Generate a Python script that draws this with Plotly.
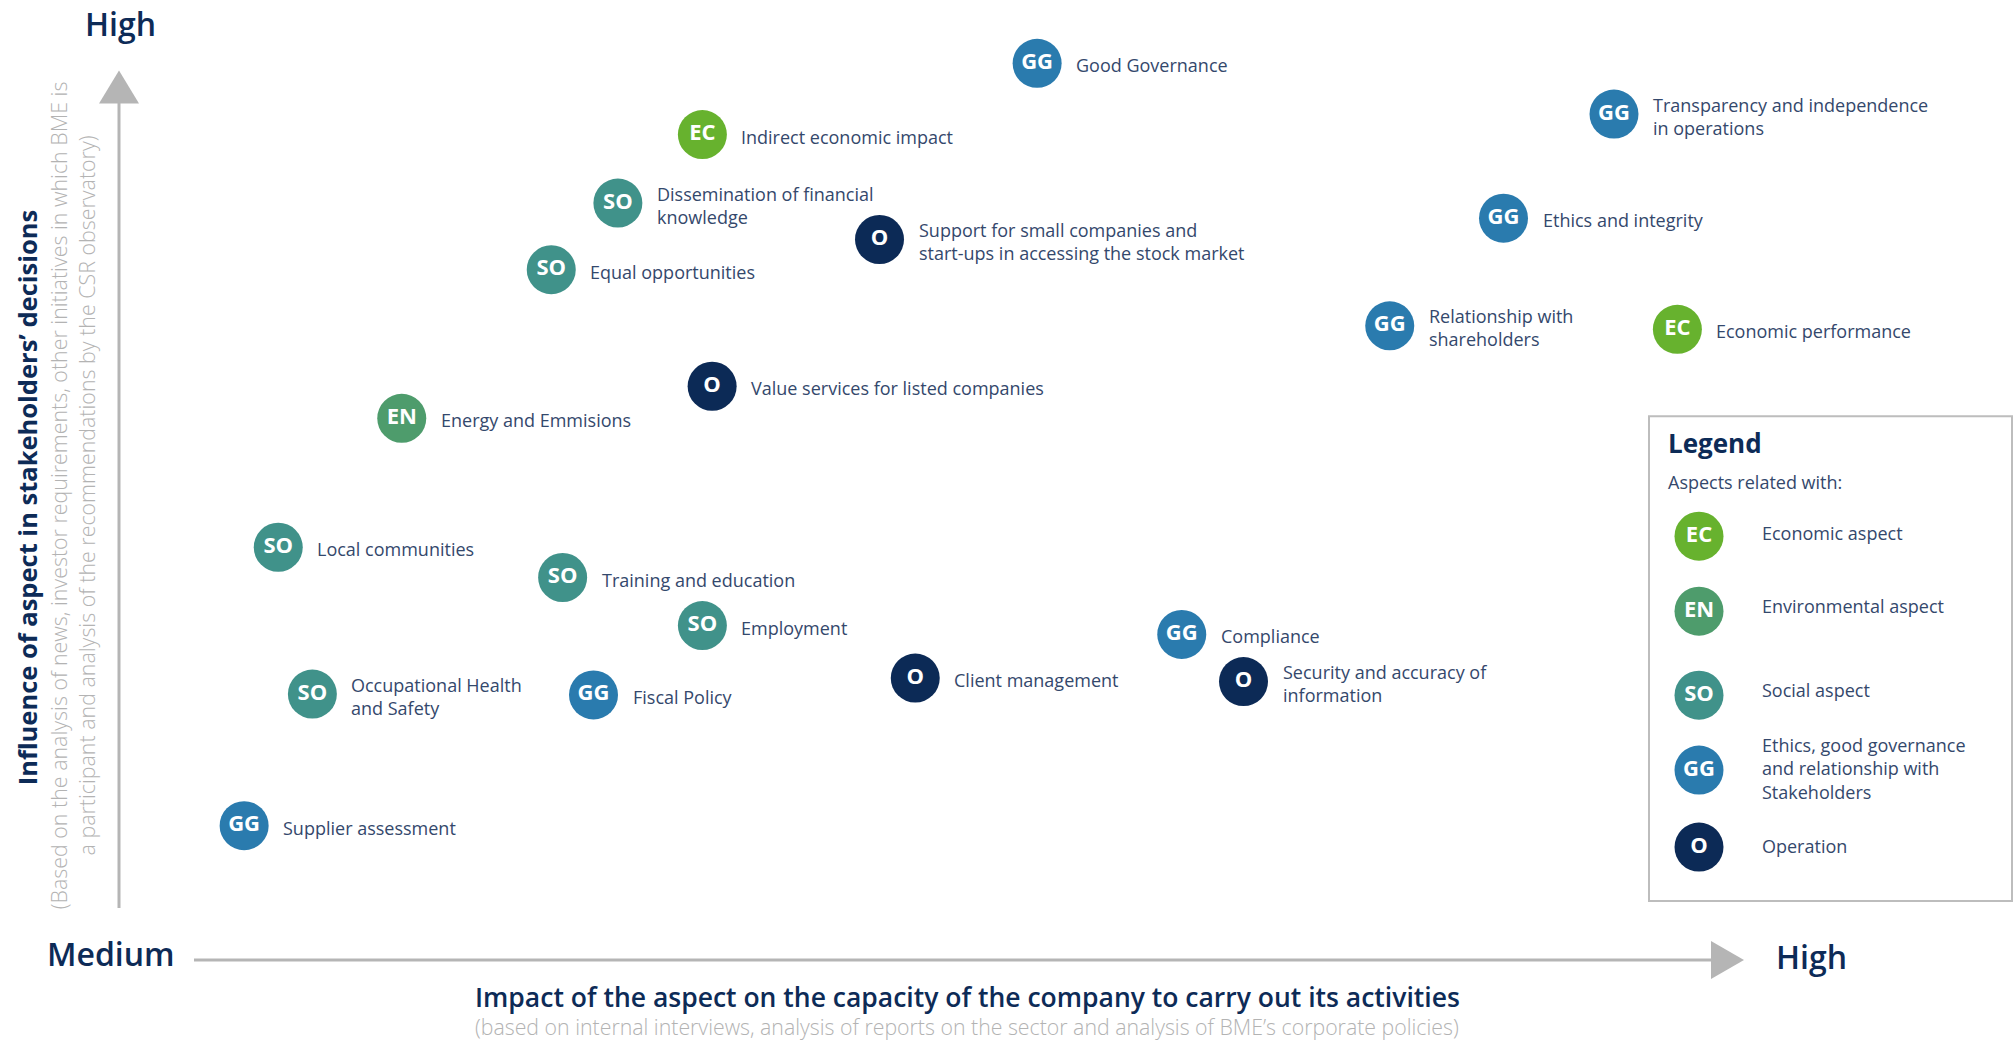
import plotly.graph_objects as go

# materiality matrix: impact on company (x) vs influence on stakeholders (y), 0-100 scale
aspects = [
    "Good Governance",
    "Transparency and independence<br>in operations",
    "Indirect economic impact",
    "Dissemination of financial<br>knowledge",
    "Support for small companies and<br>start-ups in accessing the stock market",
    "Ethics and integrity",
    "Equal opportunities",
    "Relationship with<br>shareholders",
    "Economic performance",
    "Value services for listed companies",
    "Energy and Emmisions",
    "Local communities",
    "Training and education",
    "Employment",
    "Compliance",
    "Client management",
    "Security and accuracy of<br>information",
    "Occupational Health<br>and Safety",
    "Fiscal Policy",
    "Supplier assessment",
]
codes = ["GG", "GG", "EC", "SO", "O", "GG", "SO", "GG", "EC", "O",
         "EN", "SO", "SO", "SO", "GG", "O", "O", "SO", "GG", "GG"]
impact = [56.5, 92.0, 35.9, 30.7, 46.8, 85.2, 26.6, 78.2, 95.9, 36.5,
          17.4, 9.8, 27.3, 35.9, 65.4, 49.0, 69.2, 11.9, 29.2, 7.7]
influence = [100.8, 95.1, 92.8, 85.1, 81.0, 83.4, 77.6, 71.3, 70.9, 64.5,
             60.9, 46.4, 43.0, 37.6, 36.6, 31.7, 31.3, 29.9, 29.8, 15.1]

legend_codes = ["EC", "EN", "SO", "GG", "O"]
legend_labels = ["Economic aspect", "Environmental aspect", "Social aspect",
                 "Ethics, good governance<br>and relationship with<br>Stakeholders", "Operation"]

colors = {"EC": "#67b22e", "EN": "#4e9c6c", "SO": "#40928a", "GG": "#2a7bae", "O": "#0c2a56"}
navy = "#0d2b57"
txt = "#34486c"
grey = "#b3b3b3"
font = "Open Sans"

W, H = 2015, 1041
YMAX = 105
L, R, B = 119, 1744, 960          # x: 0..100 over L..R px, y: 0 at B px
T = B - YMAX * (B - 70) / 100     # y=100 sits at 70 px (arrow tip)


def pxx(p):  # pixel -> paper x
    return (p - L) / (R - L)


def pxy(p):  # pixel -> paper y
    return (B - p) / (B - T)


def dx(p):  # pixel -> data x
    return pxx(p) * 100


def dy(p):
    return pxy(p) * YMAX


def note(x, y, text, size, color, weight=None, **kw):
    fig.add_annotation(x=pxx(x), y=pxy(y), xref="paper", yref="paper", text=text,
                       showarrow=False, xanchor=kw.pop("xanchor", "center"), yanchor="middle",
                       font=dict(family=font, size=size, color=color, weight=weight), **kw)


fig = go.Figure()

fig.add_trace(go.Scatter(
    x=impact, y=influence, mode="markers+text", text=codes,
    textposition="middle center",
    textfont=dict(family=font, size=22, color="white", weight="bold"),
    marker=dict(size=49, color=[colors[c] for c in codes], line=dict(width=0)),
    cliponaxis=False, hoverinfo="skip", showlegend=False,
))

for a, xi, yi in zip(aspects, impact, influence):
    fig.add_annotation(x=xi, y=yi, xref="x", yref="y", text=a, showarrow=False,
                       xanchor="left", yanchor="middle", xshift=37, yshift=-2, align="left",
                       font=dict(family=font, size=18, color=txt))

# legend box
leg_y = [536, 611, 695, 770, 847]
leg_text_y = [533, 606, 690, 768, 846]
fig.add_trace(go.Scatter(
    x=[dx(1699)] * len(legend_codes), y=[dy(p) for p in leg_y],
    mode="markers+text", text=legend_codes, textposition="middle center",
    textfont=dict(family=font, size=22, color="white", weight="bold"),
    marker=dict(size=49, color=[colors[c] for c in legend_codes], line=dict(width=0)),
    cliponaxis=False, hoverinfo="skip", showlegend=False,
))
for lab, p in zip(legend_labels, leg_text_y):
    note(1760, p, lab, 18, txt, xanchor="left", align="left")

fig.add_shape(type="rect", xref="paper", yref="paper",
              x0=pxx(1649), x1=pxx(2012), y0=pxy(901), y1=pxy(416),
              line=dict(color="#bdbdbd", width=2), fillcolor="rgba(0,0,0,0)")
note(1666, 443, "Legend", 26, navy, weight="bold", xanchor="left")
note(1666, 482, "Aspects related with:", 18, txt, xanchor="left")

# axis arrows
arrow = "#b5b5b5"
fig.add_shape(type="line", xref="paper", yref="paper", x0=pxx(194), x1=pxx(1712),
              y0=pxy(960), y1=pxy(960), line=dict(color=arrow, width=3))
fig.add_shape(type="path", xref="paper", yref="paper",
              path=f"M {pxx(1711)},{pxy(941)} L {pxx(1744)},{pxy(960)} L {pxx(1711)},{pxy(979)} Z",
              fillcolor=arrow, line=dict(width=0))
fig.add_shape(type="line", xref="paper", yref="paper", x0=pxx(119), x1=pxx(119),
              y0=pxy(908), y1=pxy(102), line=dict(color=arrow, width=3))
fig.add_shape(type="path", xref="paper", yref="paper",
              path=f"M {pxx(99)},{pxy(103)} L {pxx(119)},{pxy(70)} L {pxx(139)},{pxy(103)} Z",
              fillcolor=arrow, line=dict(width=0))

# axis end labels and titles
note(120, 23, "High", 32, navy, weight=600)
note(111, 953, "Medium", 32, navy, weight=600)
note(1811, 956, "High", 32, navy, weight=600)

note(967, 997, "Impact of the aspect on the capacity of the company to carry out its activities",
     26.5, navy, weight=600)
note(967, 1027, "(based on internal interviews, analysis of reports on the sector and analysis of BME’s corporate policies)",
     21.3, grey, weight=300, borderpad=0)
note(27, 497, "Influence of aspect in stakeholders’ decisions", 25.5, navy, weight="bold", textangle=-90)
note(72, 495, "(Based on the analysis of news, investor requirements, other initiatives in which BME is<br>"
              "a participant and analysis of the recommendations by the CSR observatory)",
     21.4, grey, weight=300, textangle=-90)

fig.update_xaxes(range=[0, 100], visible=False)
fig.update_yaxes(range=[0, YMAX], visible=False)
fig.update_layout(width=W, height=H, plot_bgcolor="white", paper_bgcolor="white",
                  margin=dict(l=L, r=W - R, t=T, b=H - B), font=dict(family=font))

fig.write_html("out.html", config={"displayModeBar": False},
               post_script="document.body.style.margin='0';")
